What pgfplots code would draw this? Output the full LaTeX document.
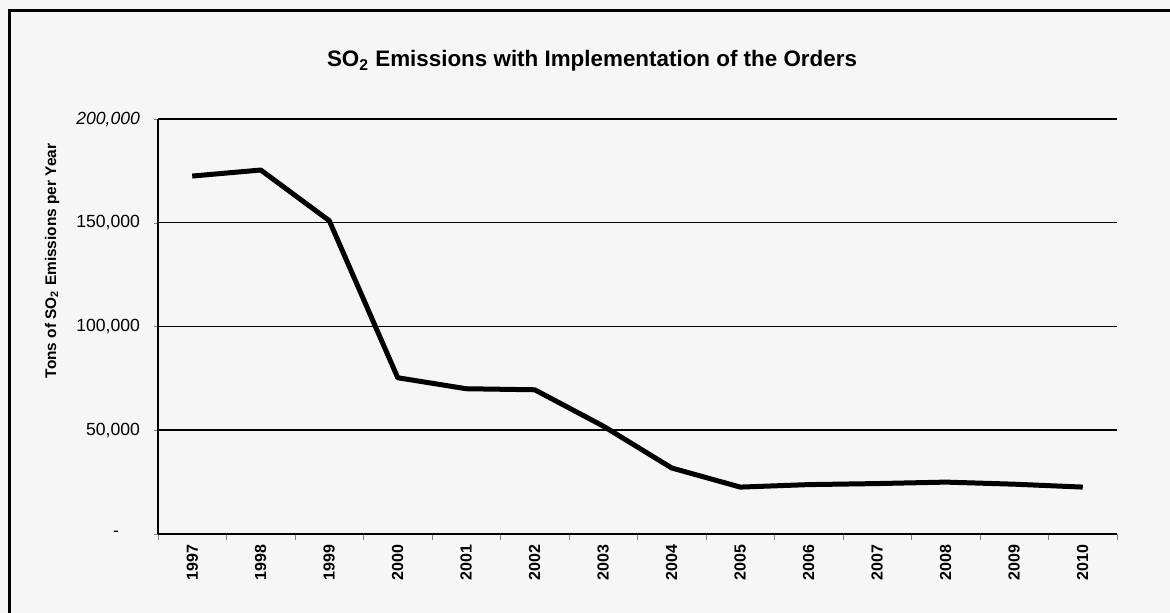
\documentclass[border=0pt]{standalone}
\usepackage{fontspec}
\setmainfont{Liberation Sans}
\usepackage{pgfplots}
\pgfplotsset{compat=1.18}
\definecolor{bg}{HTML}{F6F6F6}
\begin{document}
\begin{tikzpicture}
\fill[bg] (0,0) rectangle (585pt,306.5pt);
\draw[line width=1.5pt] (4.5pt,0) -- (4.5pt,301pt) -- (585pt,301pt);
\node[font=\fontsize{11.2}{13}\selectfont\bfseries] at (296pt,276pt) {SO\textsubscript{2} Emissions with Implementation of the Orders};
\begin{axis}[
  at={(79pt,39.5pt)}, anchor=south west,
  scale only axis, width=479.5pt, height=207.5pt,
  xmin=1996.5, xmax=2010.5, ymin=0, ymax=200000,
  scaled y ticks=false,
  axis x line*=bottom, axis y line*=left,
  axis line style={line width=0.8pt},
  xtick={1997,...,2010},
  xticklabels={1997,1998,1999,2000,2001,2002,2003,2004,2005,2006,2007,2008,2009,2010},
  x tick label style={rotate=90, anchor=east, font=\fontsize{8}{9}\selectfont\bfseries},
  major x tick style={draw=none},
  minor xtick={1996.5,1997.5,...,2010.5},
  minor tick length=3pt,
  tick align=outside,
  ytick={0,50000,100000,150000,200000},
  yticklabels={{-\hspace*{10.5pt}},{50,000},{100,000},{150,000},{\itshape 200,000}},
  y tick label style={font=\fontsize{8.8}{11}\selectfont},
  major tick length=2pt,
  yticklabel style={xshift=-3.5pt},
  ymajorgrids, grid style={black, line width=0.75pt},
  ylabel={Tons of SO\textsubscript{2} Emissions per Year},
  ylabel style={at={(axis description cs:-0.1105,0.658)}, anchor=center, font=\fontsize{7.7}{9}\selectfont\bfseries},
  clip=false,
]
\addplot[black, line width=2.5pt, line join=round] coordinates {
(1997,172500) (1998,175400) (1999,151000) (2000,75300) (2001,70000)
(2002,69500) (2003,52000) (2004,31800) (2005,22600) (2006,23800)
(2007,24300) (2008,25000) (2009,24000) (2010,22600)
};
\end{axis}
\pgfresetboundingbox
\path (0,0) rectangle (585pt,306.5pt);
\end{tikzpicture}
\end{document}
